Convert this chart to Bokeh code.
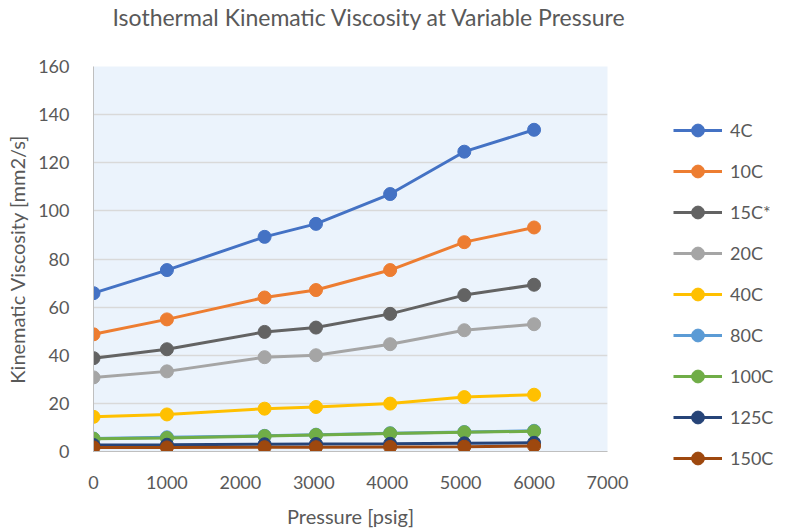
from bokeh.plotting import figure
from bokeh.models import Range1d, FixedTicker, Legend, LegendItem, Title
from bokeh.embed import file_html
from bokeh.resources import INLINE

pressure = [0, 1000, 2330, 3030, 4040, 5050, 6000]

v_4C = [65.8, 75.4, 89.2, 94.6, 107.0, 124.6, 133.7]
v_10C = [48.7, 54.9, 64.0, 67.1, 75.4, 87.0, 93.1]
v_15C = [38.8, 42.5, 49.7, 51.5, 57.2, 65.0, 69.3]
v_20C = [30.8, 33.3, 39.2, 40.0, 44.6, 50.4, 52.9]
v_40C = [14.4, 15.4, 17.8, 18.5, 19.9, 22.6, 23.6]
v_80C = [5.4, 5.9, 6.5, 7.0, 7.6, 8.1, 8.6]
v_100C = [5.3, 5.6, 6.4, 6.9, 7.5, 8.0, 8.4]
v_125C = [2.7, 2.8, 3.0, 3.1, 3.2, 3.4, 3.6]
v_150C = [1.7, 1.7, 1.8, 1.8, 1.9, 2.0, 2.3]

series_names = ["4C", "10C", "15C*", "20C", "40C", "80C", "100C", "125C", "150C"]
series_values = [v_4C, v_10C, v_15C, v_20C, v_40C, v_80C, v_100C, v_125C, v_150C]
series_colors = ["#4472C4", "#ED7D31", "#636363", "#A5A5A5", "#FFC000",
                 "#5B9BD5", "#70AD47", "#264478", "#9E480E"]

x_ticks = [0, 1000, 2000, 3000, 4000, 5000, 6000, 7000]
y_ticks = [0, 20, 40, 60, 80, 100, 120, 140, 160]

FONT = "Lato"
GRAY = "#595959"

p = figure(width=787, height=531, output_backend="svg", toolbar_location=None,
           x_range=Range1d(0, 7000), y_range=Range1d(0, 160),
           frame_width=514, frame_height=385,
           min_border_left=93, min_border_top=66, min_border_right=180, min_border_bottom=80)

p.background_fill_color = "#EBF3FC"
p.border_fill_color = "white"
p.outline_line_color = None

# spacer between the frame and the title
p.add_layout(Title(text=" ", text_font_size="1px", standoff=33), "above")

p.title.text = "Isothermal Kinematic Viscosity at Variable Pressure"
p.title.text_font = FONT
p.title.text_font_size = "23px"
p.title.text_font_style = "normal"
p.title.text_color = GRAY
p.title.align = "left"
p.title.offset = 19
p.title.vertical_align = "bottom"
p.title.standoff = 0

for ax in (p.xaxis[0], p.yaxis[0]):
    ax.major_tick_line_color = None
    ax.minor_tick_line_color = None
    ax.axis_line_color = "#BFBFBF"
    ax.major_label_text_font = FONT
    ax.major_label_text_font_size = "18px"
    ax.major_label_text_color = GRAY
    ax.axis_label_text_font = FONT
    ax.axis_label_text_font_size = "20px"
    ax.axis_label_text_font_style = "normal"
    ax.axis_label_text_color = GRAY

p.xaxis.ticker = FixedTicker(ticks=x_ticks)
p.yaxis.ticker = FixedTicker(ticks=y_ticks)
p.xaxis.axis_label = "Pressure [psig]"
p.yaxis.axis_label = "Kinematic Viscosity [mm2/s]"
p.xaxis.major_label_standoff = 18
p.xaxis.axis_label_standoff = 12
p.yaxis.major_label_standoff = 18
p.yaxis.axis_label_standoff = 6

p.xgrid.grid_line_color = None
p.ygrid.grid_line_color = "#D9D9D9"
p.ygrid.grid_line_width = 1.5

items = []
for name, vals, col in zip(series_names, series_values, series_colors):
    r1 = p.line(pressure, vals, line_color=col, line_width=3)
    r2 = p.scatter(pressure, vals, size=13, fill_color=col, line_color=col)
    items.append(LegendItem(label=name, renderers=[r1, r2]))

legend = Legend(items=items, location=(66, -23))
legend.label_text_font = FONT
legend.label_text_font_size = "18px"
legend.label_text_color = GRAY
legend.glyph_width = 49
legend.glyph_height = 32
legend.spacing = 9
legend.label_standoff = 8
legend.padding = 0
legend.margin = 0
legend.border_line_color = None
legend.background_fill_alpha = 0
p.add_layout(legend, "right")

open("out.html", "w").write(file_html(p, INLINE))
